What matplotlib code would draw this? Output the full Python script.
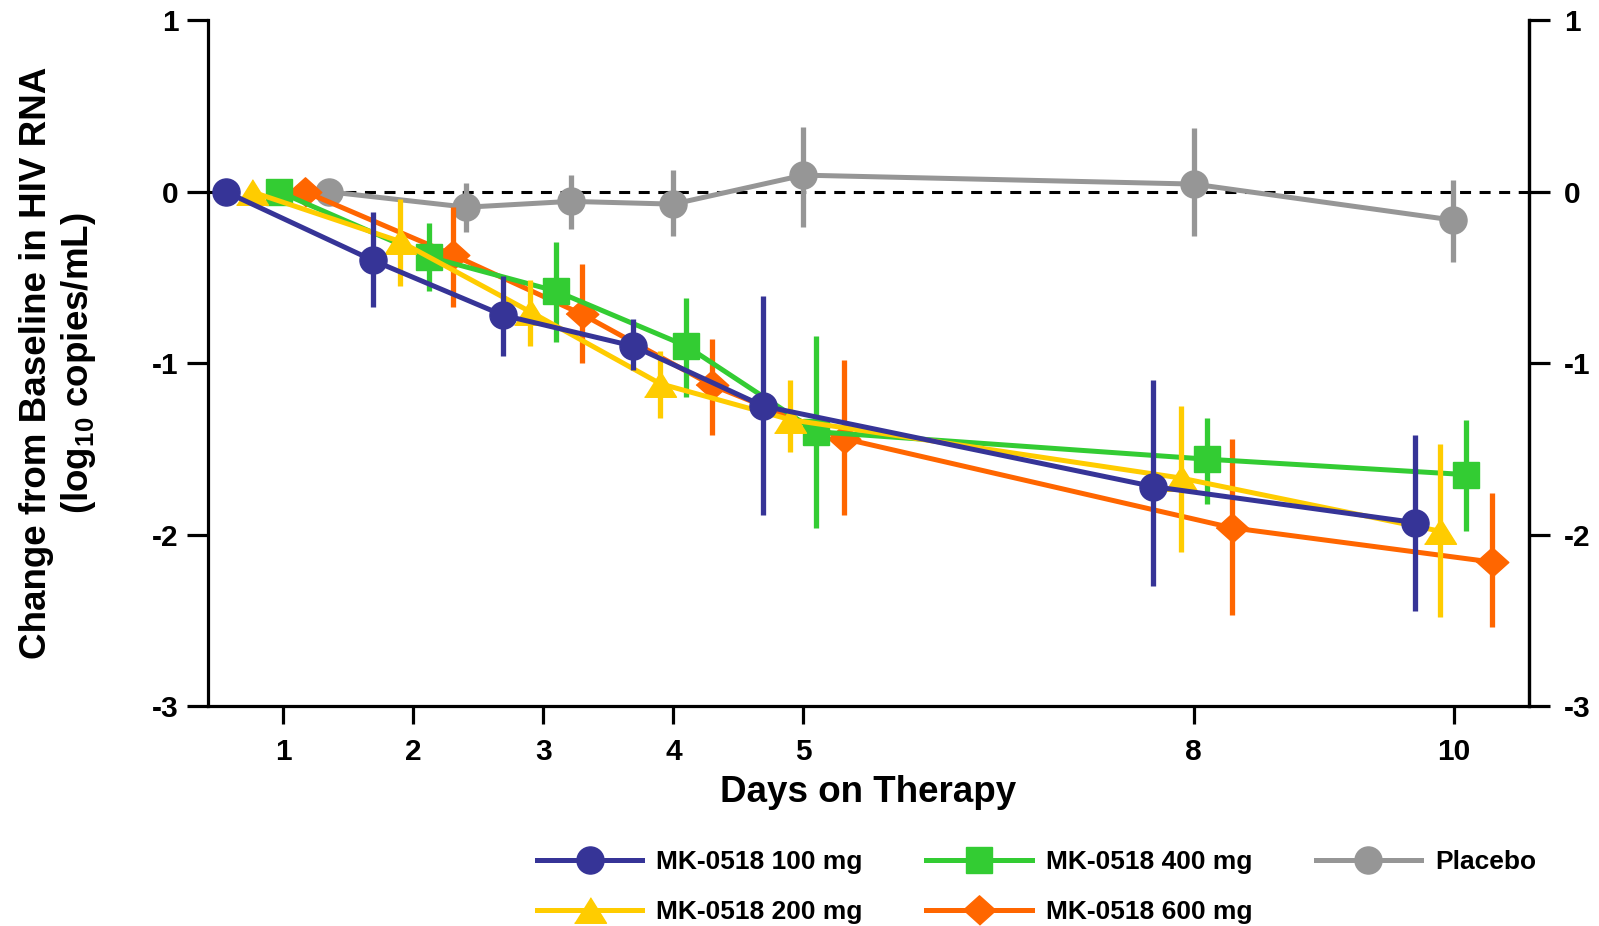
import numpy as np
import matplotlib.pyplot as plt

plt.rcParams['font.family'] = ['Liberation Sans', 'DejaVu Sans']
plt.rcParams['font.weight'] = 'bold'
plt.rcParams['mathtext.fontset'] = 'custom'
plt.rcParams['mathtext.rm'] = 'Liberation Sans:bold'
plt.rcParams['mathtext.it'] = 'Liberation Sans:bold'
plt.rcParams['mathtext.bf'] = 'Liberation Sans:bold'

# values (x = plotted day position, offset per group)
days_100 = [0.56, 1.69, 2.69, 3.69, 4.69, 7.69, 9.70]
mean_100 = [0.0, -0.40, -0.72, -0.90, -1.25, -1.72, -1.93]
hi_100 = [0.0, -0.12, -0.49, -0.74, -0.61, -1.10, -1.42]
lo_100 = [0.0, -0.675, -0.96, -1.04, -1.885, -2.30, -2.445]

days_200 = [0.76, 1.90, 2.90, 3.90, 4.90, 7.90, 9.89]
mean_200 = [0.0, -0.29, -0.70, -1.12, -1.33, -1.67, -1.98]
hi_200 = [0.0, -0.04, -0.515, -0.93, -1.10, -1.25, -1.47]
lo_200 = [0.0, -0.55, -0.90, -1.32, -1.52, -2.10, -2.48]

days_400 = [0.97, 2.12, 3.10, 4.10, 5.10, 8.10, 10.09]
mean_400 = [0.0, -0.38, -0.58, -0.90, -1.40, -1.56, -1.65]
hi_400 = [0.0, -0.18, -0.295, -0.62, -0.84, -1.32, -1.33]
lo_400 = [0.0, -0.58, -0.875, -1.20, -1.96, -1.82, -1.98]

days_600 = [1.17, 2.31, 3.30, 4.30, 5.31, 8.29, 10.29]
mean_600 = [0.0, -0.37, -0.715, -1.13, -1.44, -1.96, -2.16]
hi_600 = [0.0, -0.09, -0.42, -0.86, -0.98, -1.44, -1.76]
lo_600 = [0.0, -0.67, -1.00, -1.42, -1.885, -2.47, -2.54]

days_pbo = [1.35, 2.41, 3.21, 4.00, 5.00, 8.00, 9.99]
mean_pbo = [0.0, -0.09, -0.056, -0.072, 0.097, 0.045, -0.165]
hi_pbo = [0.0, 0.05, 0.10, 0.126, 0.375, 0.37, 0.07]
lo_pbo = [0.0, -0.237, -0.22, -0.257, -0.208, -0.257, -0.41]

xticks = [1, 2, 3, 4, 5, 8, 10]
yticks = [-3, -2, -1, 0, 1]

tri = [(-1, -0.8), (1, -0.8), (0, 0.8)]
dia = [(-1, 0), (0, 0.9), (1, 0), (0, -0.9)]

groups = [
    ('Placebo', days_pbo, mean_pbo, hi_pbo, lo_pbo, '#969696', 'o', 19.5),
    ('MK-0518 600 mg', days_600, mean_600, hi_600, lo_600, '#ff6600', dia, 23.5),
    ('MK-0518 400 mg', days_400, mean_400, hi_400, lo_400, '#33cc33', 's', 18.7),
    ('MK-0518 200 mg', days_200, mean_200, hi_200, lo_200, '#ffcc00', tri, 23),
    ('MK-0518 100 mg', days_100, mean_100, hi_100, lo_100, '#363497', 'o', 19.5),
]

fig = plt.figure(figsize=(15.99, 9.26), dpi=100)
ax = fig.add_axes([0.1301, 0.2376, 0.8261, 0.7404])

ax.axhline(0, color='black', lw=2.2, ls=(0, (3.6, 2.8)), zorder=1)

handles = {}
for k, (name, x, m, hi, lo, col, mk, ms) in enumerate(groups):
    x = np.array(x)
    m = np.array(m)
    yerr = [m - np.array(lo), np.array(hi) - m]
    ax.errorbar(x, m, yerr=yerr, fmt='none', ecolor=col, elinewidth=3.8,
                capsize=0, zorder=2 + 2 * k)
    ln, = ax.plot(x, m, color=col, lw=3.6, marker=mk, ms=ms, mec=col,
                  mfc=col, zorder=3 + 2 * k, solid_joinstyle='round')
    handles[name] = ln

ax.set_xlim(0.4236, 10.576)
ax.set_ylim(-3, 1)
ax.set_xticks(xticks)
ax.set_yticks(yticks)
ax.set_yticklabels([str(v) for v in yticks])
ax.spines['top'].set_visible(False)
for s in ['left', 'bottom', 'right']:
    ax.spines[s].set_linewidth(2.3)
ax.tick_params(axis='x', length=13, width=2.3, pad=10, labelsize=21.5)
ax.tick_params(axis='y', length=15, width=2.3, pad=6, labelsize=21.5)

ax2 = ax.twinx()
ax2.set_ylim(-3, 1)
ax2.set_yticks(yticks)
ax2.set_yticklabels([str(v) for v in yticks])
ax2.spines['top'].set_visible(False)
ax2.spines['right'].set_linewidth(2.3)
ax2.tick_params(axis='y', length=15, width=2.3, pad=10, labelsize=21.5)

ax.set_xlabel('Days on Therapy', fontsize=26.5, fontweight='bold')
ax.xaxis.set_label_coords(0.5, -0.100)
ax.set_ylabel('Change from Baseline in HIV RNA\n(log$_{10}$ copies/mL)',
              fontsize=26.5, fontweight='bold', linespacing=1.2)
ax.yaxis.set_label_coords(-0.083, 0.5)

order = ['MK-0518 100 mg', 'MK-0518 200 mg', 'MK-0518 400 mg',
         'MK-0518 600 mg', 'Placebo']
fig.legend([handles[n] for n in order], order, ncol=3, frameon=False,
           loc='upper left', bbox_to_anchor=(0.3358, 0.082),
           borderaxespad=0, borderpad=0, fontsize=19, handlelength=4.0,
           handletextpad=0.53, columnspacing=2.4, labelspacing=1.0)

fig.savefig('out.png', dpi=100)
